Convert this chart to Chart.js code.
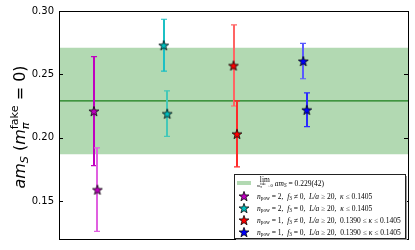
<!DOCTYPE html>
<html>
<head>
<meta charset="utf-8">
<script src="https://cdn.jsdelivr.net/npm/chart.js@4.4.0/dist/chart.umd.min.js"></script>
<style>
  html, body { margin: 0; padding: 0; background: #fff; }
  #wrap { width: 415px; height: 250px; position: relative; }
</style>
</head>
<body>
<div id="wrap"><canvas id="chart"></canvas></div>
<script>
// ===== DATA =====
const xRange = [0.5, 5.5];
const yRange = [0.12, 0.30];
const yTicks = [0.15, 0.20, 0.25, 0.30];

const xFirst = [1, 2, 3, 4];
const xSecond = [1.05, 2.05, 3.05, 4.05];
const yFirst = [0.221, 0.273, 0.257, 0.2605];
const errFirst = [0.043, 0.0205, 0.032, 0.014];
const ySecond = [0.159, 0.219, 0.203, 0.222];
const errSecond = [0.033, 0.018, 0.026, 0.0133];

const bandCenter = 0.229;
const bandErr = 0.042;

const starColors = ['#bf00bf', '#00bfbf', '#ff0000', '#0000ff'];
const errColorsFirst = ['#c000c0', '#1cc0c4', '#ff6464', '#5a5aff'];
const errColorsSecond = ['#e060e0', '#44c8b8', '#ff2a2a', '#2a2aff'];

// rich text pieces: t = text, i = italic, s = scale, dy = shift (in em), stack = put over previous piece
const legendBand = {
  under: [{ t: 'm', i: 1 }, { t: 'π', i: 1, s: 0.7, dy: 0.2 }, { t: 'fake', s: 0.7, dy: -0.4, stack: 1 }, { t: '→0' }],
  rest: [{ t: 'am', i: 1 }, { t: 'S', i: 1, s: 0.7, dy: 0.2 }, { t: ' = 0.229(42)' }]
};
const legendRows = [
  [{ t: 'n' , i: 1 }, { t: 'pow', s: 0.7, dy: 0.2 }, { t: ' = 2,  ' }, { t: 'f', i: 1 }, { t: '3', s: 0.7, dy: 0.2 }, { t: ' ≠ 0,  ' }, { t: 'L/a', i: 1 }, { t: ' ≥ 20,  ' }, { t: 'κ', i: 1 }, { t: ' ≤ 0.1405' }],
  [{ t: 'n' , i: 1 }, { t: 'pow', s: 0.7, dy: 0.2 }, { t: ' = 2,  ' }, { t: 'f', i: 1 }, { t: '3', s: 0.7, dy: 0.2 }, { t: ' = 0,  ' }, { t: 'L/a', i: 1 }, { t: ' ≥ 20,  ' }, { t: 'κ', i: 1 }, { t: ' ≤ 0.1405' }],
  [{ t: 'n' , i: 1 }, { t: 'pow', s: 0.7, dy: 0.2 }, { t: ' = 1,  ' }, { t: 'f', i: 1 }, { t: '3', s: 0.7, dy: 0.2 }, { t: ' ≠ 0,  ' }, { t: 'L/a', i: 1 }, { t: ' ≥ 20,  0.1390 ≤ ' }, { t: 'κ', i: 1 }, { t: ' ≤ 0.1405' }],
  [{ t: 'n' , i: 1 }, { t: 'pow', s: 0.7, dy: 0.2 }, { t: ' = 1,  ' }, { t: 'f', i: 1 }, { t: '3', s: 0.7, dy: 0.2 }, { t: ' = 0,  ' }, { t: 'L/a', i: 1 }, { t: ' ≥ 20,  0.1390 ≤ ' }, { t: 'κ', i: 1 }, { t: ' ≤ 0.1405' }]
];
const yLabel = [{ t: 'am', i: 1 }, { t: 'S', i: 1, s: 0.7, dy: 0.2 }, { t: ' (' }, { t: 'm', i: 1 }, { t: 'π', i: 1, s: 0.7, dy: 0.25 }, { t: 'fake', s: 0.7, dy: -0.45, stack: 1 }, { t: ' = 0)' }];

// ===== HELPERS =====
function makeStar(fill, r) {
  const c = document.createElement('canvas');
  const size = Math.ceil(r * 2 + 3);
  c.width = size; c.height = size;
  const g = c.getContext('2d');
  const cx = size / 2, cy = size / 2 + 0.6;
  g.beginPath();
  for (let k = 0; k < 10; k++) {
    const rr = k % 2 === 0 ? r : r * 0.4;
    const a = -Math.PI / 2 + k * Math.PI / 5;
    const px = cx + rr * Math.cos(a), py = cy + rr * Math.sin(a);
    k === 0 ? g.moveTo(px, py) : g.lineTo(px, py);
  }
  g.closePath();
  g.fillStyle = fill;
  g.fill();
  g.lineWidth = 0.8;
  g.strokeStyle = '#000';
  g.stroke();
  return c;
}

function drawRich(ctx, parts, x, y, size, family, draw = true) {
  let cx = x, lastStart = x, lastEnd = x;
  parts.forEach(p => {
    const s = size * (p.s || 1);
    ctx.font = `${p.i ? 'italic ' : ''}${s}px ${family}`;
    const start = p.stack ? lastStart : cx;
    const w = ctx.measureText(p.t).width;
    if (draw) ctx.fillText(p.t, start, y + (p.dy || 0) * size);
    if (p.stack) {
      cx = Math.max(lastEnd, start + w);
    } else {
      lastStart = start; lastEnd = start + w; cx = lastEnd;
    }
  });
  return cx - x;
}

const stars = starColors.map(c => makeStar(c, 5.2));

// ===== PLUGINS =====
const errorBarPlugin = {
  id: 'errorBars',
  beforeDatasetDraw(chart, args) {
    const ds = chart.data.datasets[args.index];
    if (!ds.errors) return;
    const { ctx, scales: { x, y } } = chart;
    ds.data.forEach((pt, i) => {
      const px = Math.round(x.getPixelForValue(pt.x));
      const top = y.getPixelForValue(pt.y + ds.errors[i]);
      const bot = y.getPixelForValue(pt.y - ds.errors[i]);
      ctx.save();
      ctx.lineWidth = 2;
      ctx.strokeStyle = ds.errorColors[i];
      ctx.beginPath();
      ctx.moveTo(px, top); ctx.lineTo(px, bot);
      ctx.stroke();
      ctx.lineWidth = 1.2;
      ctx.beginPath();
      ctx.moveTo(px - 3, top); ctx.lineTo(px + 3, top);
      ctx.moveTo(px - 3, bot); ctx.lineTo(px + 3, bot);
      ctx.stroke();
      ctx.restore();
    });
  }
};

const framePlugin = {
  id: 'frame',
  afterDraw(chart) {
    const { ctx, chartArea: a, scales: { y } } = chart;
    ctx.save();
    // box
    ctx.strokeStyle = '#000';
    ctx.lineWidth = 1;
    ctx.strokeRect(Math.round(a.left) + 0.5, Math.round(a.top) + 0.5, Math.round(a.width), Math.round(a.height));
    // inner ticks both sides
    yTicks.forEach(v => {
      const py = Math.round(y.getPixelForValue(v)) + 0.5;
      ctx.beginPath();
      ctx.moveTo(a.left, py); ctx.lineTo(a.left + 4, py);
      ctx.moveTo(a.right - 4, py); ctx.lineTo(a.right, py);
      ctx.stroke();
    });

    // y label
    ctx.fillStyle = '#000';
    ctx.textBaseline = 'alphabetic';
    const fam = '"DejaVu Sans"';
    const lsz = 16;
    const lw = drawRich(ctx, yLabel, 0, 0, lsz, fam, false);
    ctx.translate(25, (a.top + a.bottom) / 2 + 2);
    ctx.rotate(-Math.PI / 2);
    drawRich(ctx, yLabel, -lw / 2, 0, lsz, fam);
    ctx.setTransform(1, 0, 0, 1, 0, 0);

    // legend box
    const L = { x: 234, y: 174, w: 171, h: 64 };
    ctx.fillStyle = '#999';
    ctx.fillRect(L.x + 2, L.y + 2, L.w, L.h);
    ctx.fillStyle = '#fff';
    ctx.fillRect(L.x, L.y, L.w, L.h);
    ctx.strokeStyle = '#222';
    ctx.strokeRect(L.x + 0.5, L.y + 0.5, L.w, L.h);

    const lf = '"Liberation Serif"';
    const fs = 7.5;
    // band row
    ctx.fillStyle = 'rgba(0,128,0,0.3)';
    ctx.fillRect(L.x + 3, L.y + 7, 14, 4);
    ctx.fillStyle = '#000';
    const tx = L.x + 23;
    const uw = drawRich(ctx, legendBand.under, tx, L.y + 13, 4.6, lf);
    ctx.font = `${fs}px ${lf}`;
    const limW = ctx.measureText('lim').width;
    ctx.fillText('lim', tx + (uw - limW) / 2, L.y + 7.5);
    drawRich(ctx, legendBand.rest, tx + uw + 2, L.y + 11.5, fs, lf);
    // star rows
    legendRows.forEach((row, i) => {
      const cy = L.y + 22 + i * 12;
      const s = stars[i];
      ctx.drawImage(s, L.x + 10 - s.width / 2, cy - s.height / 2);
      drawRich(ctx, row, tx, cy + 2.5, fs, lf);
    });
    ctx.restore();
  }
};

// ===== CHART =====
const starDatasets = starColors.map((c, i) => ({
  label: legendRows[i].map(p => p.t).join(''),
  data: [{ x: xFirst[i], y: yFirst[i] }, { x: xSecond[i], y: ySecond[i] }],
  errors: [errFirst[i], errSecond[i]],
  errorColors: [errColorsFirst[i], errColorsSecond[i]],
  pointStyle: stars[i],
  pointRadius: 6,
  showLine: false
}));

new Chart(document.getElementById('chart'), {
  type: 'scatter',
  data: {
    datasets: [
      ...starDatasets,
      {
        label: 'center',
        data: [{ x: xRange[0], y: bandCenter }, { x: xRange[1], y: bandCenter }],
        showLine: true,
        borderColor: '#1a7f1a',
        borderWidth: 1.3,
        pointRadius: 0,
        fill: false
      },
      {
        label: 'lim am_S = 0.229(42)',
        data: [{ x: xRange[0], y: bandCenter + bandErr }, { x: xRange[1], y: bandCenter + bandErr }],
        showLine: true,
        borderWidth: 0,
        pointRadius: 0,
        backgroundColor: 'rgba(0,128,0,0.3)',
        fill: { target: { value: bandCenter - bandErr } }
      }
    ]
  },
  options: {
    responsive: true,
    maintainAspectRatio: false,
    animation: false,
    devicePixelRatio: 1,
    events: [],
    layout: { padding: { left: 0, top: 11, right: 7, bottom: 7 } },
    plugins: { legend: { display: false }, tooltip: { enabled: false } },
    scales: {
      x: { type: 'linear', min: xRange[0], max: xRange[1], display: false },
      y: {
        min: yRange[0], max: yRange[1],
        afterFit: s => { s.width = 59; },
        afterBuildTicks: s => { s.ticks = yTicks.map(v => ({ value: v })); },
        grid: { display: false, drawTicks: false },
        border: { display: false },
        ticks: {
          padding: 5,
          color: '#000',
          font: { family: '"DejaVu Sans"', size: 10 },
          callback: v => v.toFixed(2)
        }
      }
    }
  },
  plugins: [errorBarPlugin, framePlugin]
});
</script>
</body>
</html>
